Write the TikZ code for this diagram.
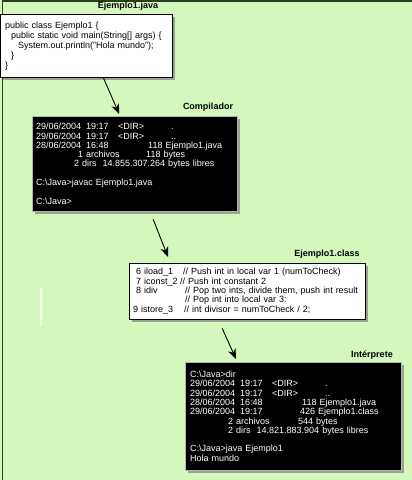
\documentclass[tikz,border=0pt]{standalone}
\usepackage{fontspec}
\setmainfont{Liberation Sans}
\usetikzlibrary{arrows.meta,shadows}
\definecolor{pagegreen}{RGB}{212,248,188}
\definecolor{edgegreen}{RGB}{40,62,34}

\begin{document}
\begin{tikzpicture}[x=1pt, y=-1pt,
    srcbox/.style={rectangle, draw=black, fill=white, anchor=north west,
                   inner xsep=5pt, inner ysep=0pt, align=left,
                   font=\fontsize{9}{10}\selectfont,
                   drop shadow={shadow xshift=3pt, shadow yshift=-3pt,
                                fill=gray, opacity=0.7}},
    termbox/.style={srcbox, draw=gray!60, fill=black, text=white,
                    font=\fontsize{9}{9.3}\selectfont},
    caption/.style={font=\fontsize{9}{9}\selectfont\bfseries},
    flow/.style={-{Stealth[length=10pt, width=8pt, inset=3pt]}, line width=0.9pt}
]
    % page
    \useasboundingbox (0,0) rectangle (412,480);
    \fill[pagegreen] (0,0) rectangle (412,480);
    \draw[edgegreen, line width=1.5pt] (2.5,480) -- (2.5,0.75) -- (412,0.75);
    \draw[white, line width=1.2pt] (41,288) -- (41,325);

    \node[srcbox, text width=162pt, minimum height=63pt] (java) at (0,14)
        {public class Ejemplo1 \{\\
         \hspace*{6pt}public static void main(String[] args) \{\\
         \hspace*{13pt}System.out.println("Hola mundo");\\
         \hspace*{6pt}\}\\
         \}};
    \node[caption] (javacap) at (128,6) {Ejemplo1.java};

    \node[termbox, inner xsep=4pt, text width=197pt, minimum height=95pt] (comp) at (32,116)
        {\makebox[50pt][l]{29/06/2004}\makebox[32pt][l]{19:17}\makebox[53pt][l]{<DIR>}.\\
         \makebox[50pt][l]{29/06/2004}\makebox[32pt][l]{19:17}\makebox[53pt][l]{<DIR>}..\\
         \makebox[50pt][l]{28/06/2004}\makebox[62pt][l]{16:48}118 Ejemplo1.java\\
         \hspace*{42pt}\makebox[68pt][l]{1 archivos}118 bytes\\
         \hspace*{38pt}2 dirs\hspace{6pt}14.855.307.264 bytes libres\\
         \mbox{}\\
         C:\textbackslash Java>javac Ejemplo1.java\\
         \mbox{}\\
         C:\textbackslash Java>};
    \node[caption] (compcap) at (208,107) {Compilador};

    \node[srcbox, inner xsep=4pt, text width=228pt, minimum height=56pt,
          font=\fontsize{9}{9.3}\selectfont] (class) at (129,263)
        {\makebox[50pt][l]{\ 6 iload\_1}// Push int in local var 1 (numToCheck)\\
         \makebox[47pt][l]{\ 7 iconst\_2}// Push int constant 2\\
         \makebox[52pt][l]{\ 8 idiv}// Pop two ints, divide them, push int result\\
         \hspace*{52pt}// Pop int into local var 3:\\
         \makebox[51pt][l]{9 istore\_3}// int divisor = numToCheck / 2;};
    \node[caption] (classcap) at (327,254) {Ejemplo1.class};

    \node[termbox, text width=206pt, minimum height=108pt] (interp) at (185,362)
        {C:\textbackslash Java>dir\\
         \makebox[50pt][l]{29/06/2004}\makebox[32pt][l]{19:17}\makebox[53pt][l]{<DIR>}.\\
         \makebox[50pt][l]{29/06/2004}\makebox[32pt][l]{19:17}\makebox[53pt][l]{<DIR>}..\\
         \makebox[50pt][l]{28/06/2004}\makebox[62pt][l]{16:48}118 Ejemplo1.java\\
         \makebox[50pt][l]{29/06/2004}\makebox[60pt][l]{19:17}426 Ejemplo1.class\\
         \hspace*{38pt}\makebox[70pt][l]{2 archivos}544 bytes\\
         \hspace*{38pt}2 dirs\hspace{6pt}14.821.883.904 bytes libres\\
         \mbox{}\\
         C:\textbackslash Java>java Ejemplo1\\
         Hola mundo};
    \node[caption] (interpcap) at (372,355) {Intérprete};

    \draw[flow] ([xshift=17pt]java.south) -- ([xshift=-15.5pt, yshift=2pt]comp.north);
    \draw[flow] ([xshift=18.5pt, yshift=-8pt]comp.south) -- ([xshift=39pt, yshift=6pt]class.north west);
    \draw[flow] ([xshift=-25pt, yshift=-9pt]class.south) -- ([xshift=51pt, yshift=3pt]interp.north west);
\end{tikzpicture}
\end{document}
